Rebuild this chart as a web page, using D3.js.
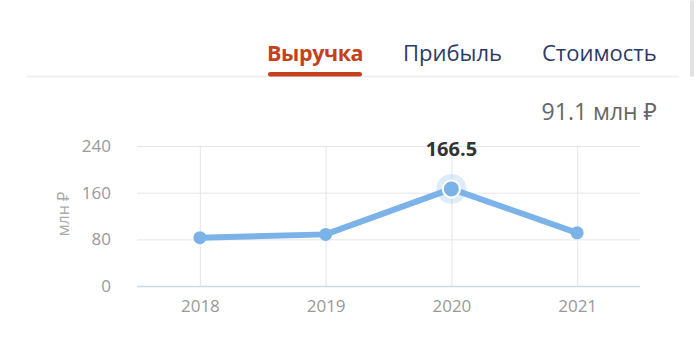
<!DOCTYPE html>
<html>
<head>
<meta charset="utf-8">
<script src="https://cdn.jsdelivr.net/npm/d3@7"></script>
<style>
  html, body { margin: 0; padding: 0; background: #fff; }
  svg { display: block; font-family: "Open Sans", "Noto Sans", sans-serif; }
</style>
</head>
<body>
<svg id="chart" width="700" height="362"></svg>
<script>
// Tabs, series and axis ticks
const tabs = ["Выручка", "Прибыль", "Стоимость"];
const years = ["2018", "2019", "2020", "2021"];
const revenue = [82.8, 88.5, 166.5, 91.1];
const yTicks = [0, 80, 160, 240];
const unit = "млн ₽";
const activeIndex = 2;

const svg = d3.select("#chart");

// Tab strip
const tabX = [267, 403, 542];
svg.append("rect").attr("x", 690).attr("y", 0).attr("width", 4).attr("height", 77)
  .attr("rx", 2).attr("fill", "#e2e2e2");
svg.append("line").attr("x1", 27).attr("x2", 679).attr("y1", 76.5).attr("y2", 76.5)
  .attr("stroke", "#ececec").attr("stroke-width", 1.5);
const tabText = svg.selectAll("text.tab").data(tabs).join("text")
  .attr("class", "tab")
  .attr("x", (d, i) => tabX[i])
  .attr("y", 61)
  .attr("font-size", (d, i) => i === 0 ? 21.5 : 22)
  .attr("letter-spacing", (d, i) => i === 0 ? -0.4 : 0)
  .attr("font-weight", (d, i) => i === 0 ? 700 : 400)
  .attr("fill", (d, i) => i === 0 ? "#c4411c" : "#2b3a6a")
  .text(d => d);
svg.append("rect").attr("x", tabX[0] + 1).attr("y", 72).attr("width", 94).attr("height", 4.5)
  .attr("rx", 2.25).attr("fill", "#c4411c");

// Current value
svg.append("text").attr("x", 657).attr("y", 120).attr("text-anchor", "end")
  .attr("font-size", 23).attr("fill", "#666")
  .text(`${revenue[revenue.length - 1]} ${unit}`);

// Scales
const x = d3.scalePoint().domain(years).range([137, 640]).padding(0.5);
const y = d3.scaleLinear().domain([0, 240]).range([286, 146]);

// Grid
const g = svg.append("g");
g.selectAll("line.hg").data(yTicks.filter(t => t > 0)).join("line")
  .attr("x1", 137).attr("x2", 640)
  .attr("y1", d => y(d) + 0.5).attr("y2", d => y(d) + 0.5)
  .attr("stroke", "#e4e6ea").attr("stroke-width", 1);
g.selectAll("line.vg").data(years).join("line")
  .attr("x1", d => x(d) + 0.5).attr("x2", d => x(d) + 0.5)
  .attr("y1", y(240)).attr("y2", y(0))
  .attr("stroke", "#e4e6ea").attr("stroke-width", 1);
g.append("line").attr("x1", 137).attr("x2", 640).attr("y1", y(0) + 0.5).attr("y2", y(0) + 0.5)
  .attr("stroke", "#c9d8ec").attr("stroke-width", 1.5);

// Axes
const yAxis = d3.axisLeft(y).tickValues(yTicks).tickSize(0).tickPadding(0);
svg.append("g").attr("transform", "translate(111,0)").call(yAxis)
  .call(s => s.select(".domain").remove())
  .call(s => s.selectAll("text").attr("font-size", 17).attr("fill", "#999")
    .attr("font-family", "Open Sans, sans-serif"));
const xAxis = d3.axisBottom(x).tickSize(0).tickPadding(0);
svg.append("g").attr("transform", "translate(0,300)").call(xAxis)
  .call(s => s.select(".domain").remove())
  .call(s => s.selectAll("text").attr("font-size", 17).attr("fill", "#999")
    .attr("font-family", "Open Sans, sans-serif"));
svg.append("text")
  .attr("transform", `translate(69,${(y(80) + y(160)) / 2 - 2}) rotate(-90)`)
  .attr("text-anchor", "middle").attr("font-size", 16).attr("fill", "#aaa")
  .text(unit);

// Line and markers
const data = years.map((yr, i) => ({ yr, v: revenue[i] }));
const blue = "#7bb3e9";
svg.append("path").datum(data)
  .attr("d", d3.line().x(d => x(d.yr)).y(d => y(d.v)))
  .attr("fill", "none").attr("stroke", blue).attr("stroke-width", 6)
  .attr("stroke-linejoin", "round").attr("stroke-linecap", "round");
svg.selectAll("circle.pt").data(data.filter((d, i) => i !== activeIndex)).join("circle")
  .attr("class", "pt")
  .attr("cx", d => x(d.yr)).attr("cy", d => y(d.v)).attr("r", 6.5).attr("fill", blue);

const act = data[activeIndex];
svg.append("circle").attr("cx", x(act.yr)).attr("cy", y(act.v)).attr("r", 15)
  .attr("fill", blue).attr("fill-opacity", 0.25);
svg.append("circle").attr("cx", x(act.yr)).attr("cy", y(act.v)).attr("r", 8.5)
  .attr("fill", blue).attr("stroke", "#fff").attr("stroke-width", 2);
svg.append("text").attr("x", x(act.yr)).attr("y", 156).attr("text-anchor", "middle")
  .attr("font-size", 20).attr("font-weight", 700).attr("fill", "#333")
  .text(act.v);
</script>
</body>
</html>
